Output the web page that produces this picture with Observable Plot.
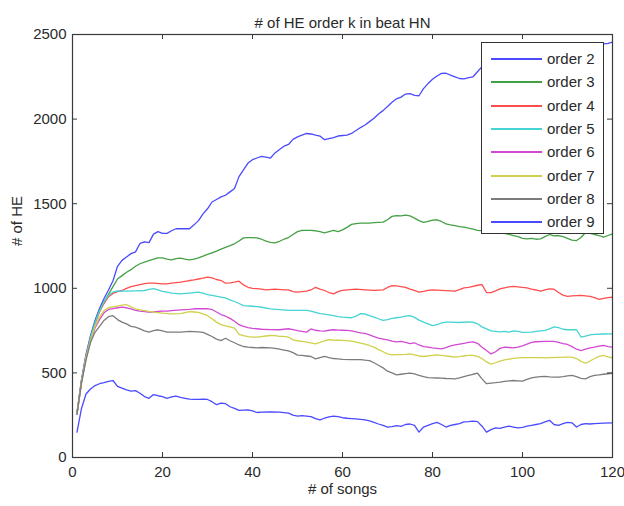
<!DOCTYPE html>
<html>
<head>
<meta charset="utf-8">
<script src="https://cdn.jsdelivr.net/npm/d3@7"></script>
<script src="https://cdn.jsdelivr.net/npm/@observablehq/plot@0.6"></script>
<style>
  body { margin: 0; background: #fff; }
  #wrap { position: relative; width: 624px; height: 506px; font-family: "Liberation Sans", Arial, sans-serif; }
  #legend { position: absolute; left: 481px; top: 42px; width: 121px; height: 190px; background: #fff; border: 1px solid #333; }
  .item { position: absolute; left: 0; height: 18px; font-size: 15px; color: #2a2a2a; }
  .item .sw { position: absolute; left: 9px; top: 8px; width: 51px; height: 0; border-top: 2px solid; }
  .item .lb { position: absolute; left: 65px; top: 0; white-space: nowrap; line-height: 18px; }
</style>
</head>
<body>
<div id="wrap"></div>
<script>
const seriesNames = ["order 2","order 3","order 4","order 5","order 6","order 7","order 8","order 9"];
const seriesColors = ["#4a4aff","#44a044","#ff4d4d","#45d3d3","#d24ad2","#d0d04a","#7c7c7c","#4a4aff"];
const xTicks = [0,20,40,60,80,100,120];
const yTicks = [0,500,1000,1500,2000,2500];

const order2 = [[1,265],[2,460],[3,610],[4,720],[5,810],[6,880],[7,940],[8,990],[9,1045],[10,1130],[11,1165],[12,1185],[13,1205],[14,1215],[15,1265],[16,1275],[17,1270],[18,1320],[19,1335],[20,1325],[21,1325],[22,1340],[23,1352],[24,1352],[25,1352],[26,1352],[27,1375],[28,1400],[29,1440],[30,1470],[31,1510],[32,1525],[33,1540],[34,1550],[35,1570],[36,1590],[37,1660],[38,1700],[39,1740],[40,1760],[41,1770],[42,1780],[43,1775],[44,1770],[45,1800],[46,1820],[47,1840],[48,1850],[49,1880],[50,1895],[51,1905],[52,1915],[53,1912],[54,1905],[55,1900],[56,1878],[57,1885],[58,1890],[59,1900],[60,1903],[61,1905],[62,1915],[63,1933],[64,1950],[65,1965],[66,1985],[67,2005],[68,2030],[69,2050],[70,2075],[71,2100],[72,2120],[73,2130],[74,2148],[75,2150],[76,2140],[77,2138],[78,2180],[79,2210],[80,2235],[81,2255],[82,2270],[83,2271],[84,2260],[85,2250],[86,2240],[87,2238],[88,2245],[89,2250],[90,2280],[91,2310],[93,2330],[96,2360],[99,2380],[102,2390],[105,2400],[108,2415],[111,2425],[114,2435],[117,2440],[119,2448],[120,2455]];
const order3 = [[1,262],[2,455],[3,600],[4,710],[5,800],[6,870],[7,920],[8,965],[9,1010],[10,1055],[11,1075],[12,1095],[13,1110],[14,1130],[15,1145],[16,1155],[17,1164],[18,1172],[19,1180],[20,1180],[21,1172],[22,1168],[23,1175],[24,1178],[25,1172],[26,1168],[27,1172],[28,1180],[29,1190],[30,1200],[31,1210],[32,1220],[33,1232],[34,1242],[35,1252],[36,1263],[37,1280],[38,1298],[39,1300],[40,1300],[41,1298],[42,1290],[43,1279],[44,1272],[45,1269],[46,1278],[47,1290],[48,1300],[49,1318],[50,1335],[51,1342],[52,1342],[53,1342],[54,1340],[55,1335],[56,1328],[57,1335],[58,1342],[59,1335],[60,1345],[61,1360],[62,1378],[63,1382],[64,1385],[65,1385],[66,1385],[67,1388],[68,1390],[69,1391],[70,1405],[71,1425],[72,1430],[73,1428],[74,1432],[75,1428],[76,1415],[77,1400],[78,1390],[79,1395],[80,1403],[81,1404],[82,1395],[83,1381],[84,1375],[85,1370],[86,1365],[87,1361],[88,1355],[89,1350],[90,1342],[92,1338],[94,1333],[96,1325],[98,1312],[99,1305],[100,1295],[101,1292],[102,1295],[103,1290],[104,1292],[105,1305],[106,1318],[107,1310],[108,1312],[109,1305],[110,1295],[111,1285],[112,1282],[113,1300],[114,1330],[115,1325],[116,1318],[117,1312],[118,1302],[119,1312],[120,1322]];
const order4 = [[1,260],[2,450],[3,595],[4,700],[5,790],[6,860],[7,910],[8,950],[9,970],[10,980],[11,987],[12,1000],[13,1010],[14,1016],[15,1022],[16,1028],[17,1030],[18,1030],[20,1026],[21,1026],[22,1030],[24,1036],[26,1046],[27,1050],[28,1055],[29,1060],[30,1066],[31,1062],[32,1052],[33,1046],[34,1030],[35,1032],[36,1036],[37,1042],[38,1020],[39,1006],[40,1000],[42,995],[43,991],[45,995],[47,991],[48,991],[49,980],[50,977],[51,980],[52,983],[53,990],[54,1006],[55,995],[56,987],[57,975],[58,967],[59,980],[60,988],[61,991],[63,995],[65,991],[67,988],[69,991],[70,1005],[71,1016],[72,1014],[73,1010],[74,1006],[75,995],[76,988],[77,977],[78,982],[79,988],[80,991],[82,988],[84,985],[85,983],[86,992],[87,1002],[88,1006],[89,1012],[90,1018],[91,1022],[92,975],[93,975],[94,985],[95,997],[96,1003],[97,1008],[98,1011],[99,1008],[100,1005],[101,1003],[102,995],[103,990],[104,983],[105,990],[106,997],[107,995],[108,975],[109,960],[110,952],[111,955],[112,957],[113,958],[114,955],[115,952],[116,945],[117,935],[118,940],[119,945],[120,947]];
const order5 = [[1,260],[2,450],[3,595],[4,705],[5,795],[6,865],[7,920],[8,958],[9,978],[10,985],[12,983],[14,985],[16,987],[17,993],[18,998],[19,990],[20,982],[21,977],[22,972],[24,967],[26,972],[28,977],[29,972],[30,963],[31,958],[33,948],[34,943],[35,932],[36,922],[37,910],[38,898],[40,894],[41,892],[42,888],[44,879],[46,874],[48,869],[50,869],[52,869],[53,865],[54,858],[55,850],[56,847],[57,843],[58,838],[59,833],[60,830],[62,826],[63,835],[64,850],[65,848],[66,838],[67,830],[68,820],[69,810],[70,815],[71,822],[72,826],[73,830],[74,836],[75,839],[76,828],[77,812],[78,800],[79,790],[80,780],[81,785],[82,795],[83,800],[84,800],[86,798],[88,802],[89,800],[90,790],[91,772],[92,760],[93,748],[94,745],[95,742],[96,745],[97,741],[98,748],[99,745],[100,740],[102,741],[103,745],[104,748],[105,751],[106,760],[107,772],[108,768],[109,758],[110,755],[111,755],[112,755],[113,712],[114,718],[115,725],[116,728],[118,730],[120,731]];
const order6 = [[1,258],[2,445],[3,585],[4,685],[5,765],[6,815],[7,855],[8,875],[9,880],[10,885],[11,889],[12,885],[13,878],[14,869],[15,865],[16,862],[17,859],[18,860],[19,863],[20,865],[21,865],[22,868],[24,872],[26,875],[27,879],[28,879],[29,879],[30,879],[31,875],[32,860],[33,845],[34,835],[35,822],[36,805],[37,785],[38,775],[39,768],[40,763],[41,761],[42,758],[44,756],[46,755],[47,758],[48,761],[49,756],[50,750],[51,745],[52,741],[53,760],[54,752],[55,748],[56,747],[57,752],[58,755],[59,753],[60,752],[61,751],[62,748],[63,742],[64,737],[65,733],[66,725],[67,715],[68,705],[69,700],[70,695],[71,688],[72,683],[73,686],[74,680],[75,673],[76,678],[77,665],[78,655],[79,652],[80,648],[81,645],[82,642],[83,650],[84,660],[85,665],[86,670],[87,675],[88,680],[89,683],[90,675],[91,652],[92,632],[93,612],[94,625],[95,645],[96,652],[97,650],[98,648],[99,652],[100,660],[101,670],[102,680],[103,684],[105,686],[107,686],[108,680],[109,673],[110,668],[111,655],[112,640],[113,632],[114,640],[115,648],[116,652],[117,658],[118,662],[119,655],[120,652]];
const order7 = [[1,258],[2,445],[3,588],[4,690],[5,775],[6,830],[7,868],[8,885],[9,890],[10,895],[11,900],[12,904],[13,890],[14,879],[15,873],[16,868],[17,863],[18,859],[19,856],[20,853],[22,849],[24,850],[26,862],[27,860],[28,858],[29,849],[30,838],[31,820],[32,800],[33,785],[34,778],[35,772],[36,765],[37,728],[38,720],[39,715],[40,712],[41,711],[42,715],[43,718],[44,721],[45,720],[46,716],[47,716],[48,712],[49,695],[50,690],[51,686],[52,682],[53,678],[54,672],[55,680],[56,690],[57,696],[58,694],[59,693],[60,692],[61,691],[62,688],[63,682],[64,676],[65,670],[66,662],[67,652],[68,638],[69,625],[70,612],[71,606],[72,608],[73,608],[74,610],[75,613],[76,607],[77,600],[78,597],[79,600],[80,604],[81,607],[82,604],[83,600],[84,597],[85,593],[86,596],[87,600],[88,603],[89,603],[90,598],[91,585],[92,565],[93,552],[94,560],[95,570],[96,577],[97,582],[98,586],[99,589],[100,590],[102,590],[104,590],[105,589],[106,590],[108,592],[110,593],[111,593],[112,585],[113,568],[114,557],[115,570],[116,585],[117,598],[118,603],[119,595],[120,589]];
const order8 = [[1,255],[2,440],[3,575],[4,680],[5,740],[6,775],[7,810],[8,832],[9,838],[10,815],[11,800],[12,790],[13,775],[14,770],[15,760],[16,748],[17,741],[18,750],[19,755],[20,748],[21,741],[22,741],[24,741],[26,745],[28,742],[29,739],[30,728],[31,715],[32,700],[33,691],[34,705],[35,690],[36,678],[37,665],[38,656],[39,652],[40,650],[41,648],[42,650],[44,648],[45,645],[46,640],[47,635],[48,630],[49,620],[50,605],[51,603],[52,600],[53,597],[54,583],[55,590],[56,597],[57,590],[58,585],[59,583],[60,580],[62,579],[64,578],[65,575],[66,573],[67,560],[68,545],[69,530],[70,510],[71,500],[72,488],[73,492],[74,496],[75,499],[76,494],[77,485],[78,478],[79,472],[80,471],[81,470],[82,469],[83,467],[84,466],[85,465],[86,470],[87,478],[88,485],[89,492],[90,498],[91,465],[92,436],[93,440],[94,442],[95,445],[96,450],[97,453],[98,455],[99,453],[100,451],[101,462],[102,471],[103,475],[104,478],[105,479],[106,476],[107,475],[108,475],[109,478],[110,482],[111,485],[112,478],[113,468],[114,465],[115,478],[116,485],[117,488],[118,492],[119,495],[120,497]];
const order9 = [[1,150],[2,290],[3,375],[4,405],[5,425],[6,436],[7,442],[8,450],[9,455],[10,420],[11,410],[12,400],[13,392],[14,395],[15,380],[16,360],[17,350],[18,372],[19,365],[20,360],[21,350],[22,358],[23,363],[24,355],[25,350],[26,345],[27,343],[28,343],[29,345],[30,343],[31,330],[32,312],[33,322],[34,318],[35,300],[36,290],[37,278],[38,280],[39,282],[40,275],[41,266],[42,268],[44,270],[46,268],[47,265],[48,262],[49,250],[50,245],[51,248],[52,245],[53,242],[54,230],[55,222],[56,232],[57,240],[58,245],[59,242],[60,235],[61,232],[62,230],[63,228],[64,225],[65,222],[66,216],[67,208],[68,198],[69,190],[70,180],[71,182],[72,188],[73,184],[74,195],[75,198],[76,190],[77,150],[78,180],[79,190],[80,200],[81,208],[82,195],[83,180],[84,190],[85,195],[86,200],[87,210],[88,212],[89,215],[90,212],[91,185],[92,150],[93,165],[94,175],[95,172],[96,180],[97,185],[98,180],[99,175],[100,178],[101,185],[102,190],[103,195],[104,200],[105,210],[106,220],[107,195],[108,190],[109,200],[110,208],[111,205],[112,180],[113,195],[114,200],[115,198],[116,200],[118,203],[120,205]];

const allSeries = [order2, order3, order4, order5, order6, order7, order8, order9];
const rows = [];
allSeries.forEach((s, i) => s.forEach(([song, value]) => rows.push({series: seriesNames[i], song, value})));

const W = 624, H = 506, mL = 72, mR = 12, mT = 34, mB = 49;
const innerW = W - mL - mR, innerH = H - mT - mB, tk = 5;
const axisColor = "#3a3a3a";

const chart = Plot.plot({
  width: W, height: H,
  marginLeft: mL, marginRight: mR, marginTop: mT, marginBottom: mB,
  style: {fontFamily: "'Liberation Sans', Arial, sans-serif", fontSize: "15px", background: "#fff", color: "#2a2a2a"},
  x: {domain: [0, 120]},
  y: {domain: [0, 2500]},
  color: {domain: seriesNames, range: seriesColors},
  marks: [
    Plot.lineY(rows, {x: "song", y: "value", z: "series", stroke: "series", strokeWidth: 1.3}),
    Plot.frame({stroke: axisColor, strokeWidth: 1.2}),
    Plot.tickX(xTicks, {x: d => d, insetTop: innerH - tk, stroke: axisColor}),
    Plot.tickX(xTicks, {x: d => d, insetBottom: innerH - tk, stroke: axisColor}),
    Plot.tickY(yTicks, {y: d => d, insetRight: innerW - tk, stroke: axisColor}),
    Plot.tickY(yTicks, {y: d => d, insetLeft: innerW - tk, stroke: axisColor}),
    Plot.axisX(xTicks, {tickSize: 0, tickPadding: 9, label: null, tickFormat: d => String(d)}),
    Plot.axisY(yTicks, {tickSize: 0, tickPadding: 6, label: null, tickFormat: d => String(d)}),
    Plot.text(["# of HE order k in beat HN"], {text: d => d, frameAnchor: "top", dy: -17}),
    Plot.text(["# of songs"], {text: d => d, frameAnchor: "bottom", dy: 36}),
    Plot.text(["# of HE"], {text: d => d, frameAnchor: "left", dx: -55, rotate: -90})
  ]
});

const wrap = document.getElementById("wrap");
wrap.appendChild(chart);

const legend = document.createElement("div");
legend.id = "legend";
seriesNames.forEach((name, i) => {
  const item = document.createElement("div");
  item.className = "item";
  item.style.top = (7 + i * 23.3) + "px";
  item.style.width = "120px";
  const sw = document.createElement("span");
  sw.className = "sw";
  sw.style.borderTopColor = seriesColors[i];
  const lb = document.createElement("span");
  lb.className = "lb";
  lb.textContent = name;
  item.appendChild(sw);
  item.appendChild(lb);
  legend.appendChild(item);
});
wrap.appendChild(legend);
</script>
</body>
</html>
